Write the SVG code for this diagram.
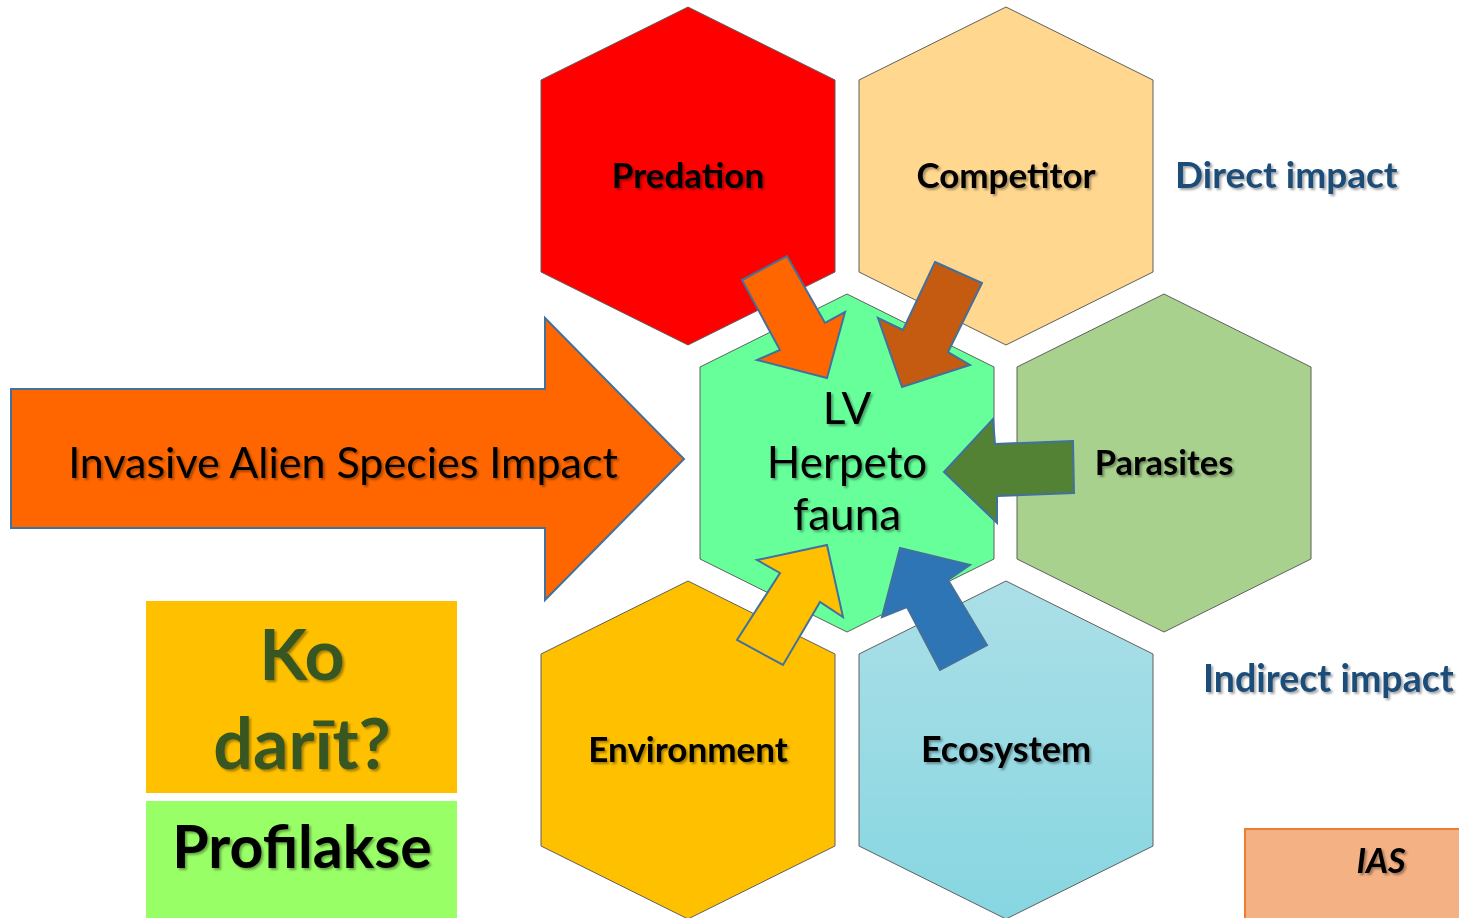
<svg xmlns="http://www.w3.org/2000/svg" width="1459" height="918" viewBox="0 0 1459 918">
  <defs>
    <filter id="shadow" x="-10%" y="-30%" width="120%" height="160%">
      <feDropShadow dx="2" dy="2" stdDeviation="1.2" flood-color="#000" flood-opacity="0.35"/>
    </filter>
    <linearGradient id="ecoFill" x1="0" y1="0" x2="0" y2="1">
      <stop offset="0" stop-color="#ACDFE7"/>
      <stop offset="1" stop-color="#86D6E1"/>
    </linearGradient>
    <!-- hexagon 294 wide, 338 tall, anchored at its top vertex -->
    <polygon id="hex" points="0,0 147,73 147,265 0,338 -147,265 -147,73"/>
  </defs>
  <style>
    .hex { stroke: #5f5f5f; stroke-width: 1; }
    .lbl { font-family: Lato, "Open Sans", sans-serif; font-weight: bold; text-anchor: middle; filter: url(#shadow); }
    .reg { font-family: Lato, "Open Sans", sans-serif; text-anchor: middle; filter: url(#shadow); }
    .imp { font-family: Lato, "Open Sans", sans-serif; font-weight: bold; fill: #1F4E79; filter: url(#shadow); }
    .arw { stroke: #41719C; stroke-width: 2; stroke-linejoin: miter; }
  </style>
  <rect width="1459" height="918" fill="#ffffff"/>

  <g id="predation">
    <use href="#hex" x="688" y="7" class="hex" fill="#FF0000"/>
    <text class="lbl" x="688" y="188" font-size="35">Predation</text>
  </g>
  <g id="competitor">
    <use href="#hex" x="1006" y="7" class="hex" fill="#FFD78F"/>
    <text class="lbl" x="1006" y="188" font-size="35">Competitor</text>
  </g>
  <g id="parasites">
    <use href="#hex" x="1164" y="294" class="hex" fill="#A9D18E"/>
    <text class="lbl" x="1164" y="475" font-size="34.5">Parasites</text>
  </g>
  <g id="environment">
    <use href="#hex" x="688" y="581" class="hex" fill="#FFC000"/>
    <text class="lbl" x="688" y="762" font-size="35">Environment</text>
  </g>
  <g id="ecosystem">
    <use href="#hex" x="1006" y="581" class="hex" fill="url(#ecoFill)"/>
    <text class="lbl" x="1006" y="762" font-size="36">Ecosystem</text>
  </g>
  <g id="herpetofauna">
    <use href="#hex" x="847" y="294" class="hex" fill="#66FF99"/>
    <text class="reg" x="847" y="424" font-size="44">LV</text>
    <text class="reg" x="847" y="478" font-size="44">Herpeto</text>
    <text class="reg" x="847" y="530" font-size="44">fauna</text>
  </g>

  <g id="ias-impact">
    <polygon class="arw" fill="#FF6600" points="11,389 545,389 545,318 684,459 545,600 545,528 11,528"/>
    <text class="reg" x="343" y="478" font-size="43">Invasive Alien Species Impact</text>
  </g>

  <g id="connectors">
    <polygon class="arw" fill="#FF6600" points="742,280 787,256 825,323 845,312 827,378 757,360 780,350"/>
    <polygon class="arw" fill="#C55A11" points="935,262 982,283 948,352 970,365 902,387 878,318 903,330"/>
    <polygon class="arw" fill="#548235" points="1073,441 995,444 993,419 944,472 997,523 997,496 1074,493"/>
    <polygon class="arw" fill="#FFC000" points="827,545 843,617 820,602 783,665 737,640 780,573 757,560"/>
    <polygon class="arw" fill="#2E75B6" points="900,548 970,565 948,580 987,645 940,670 907,607 882,617"/>
  </g>

  <g id="direct-impact">
    <text class="imp" x="1175" y="188" font-size="37">Direct impact</text>
  </g>
  <g id="indirect-impact">
    <text class="imp" x="1203" y="692" font-size="37.5">Indirect impact</text>
  </g>

  <g id="ko-darit">
    <rect x="146" y="601" width="311" height="192" fill="#FFC000"/>
    <text class="lbl" x="302" y="680" font-size="70" fill="#375623">Ko</text>
    <text class="lbl" x="302" y="769" font-size="70" fill="#375623">darīt?</text>
  </g>
  <g id="profilakse">
    <rect x="146" y="801" width="311" height="117" fill="#99FF66"/>
    <text class="lbl" x="302" y="868" font-size="59">Profilakse</text>
  </g>

  <g id="ias">
    <rect x="1245" y="829" width="220" height="100" fill="#F4B183" stroke="#ED7D31" stroke-width="2"/>
    <text class="lbl" x="1381" y="873" font-size="34" font-style="italic">IAS</text>
  </g>
</svg>
